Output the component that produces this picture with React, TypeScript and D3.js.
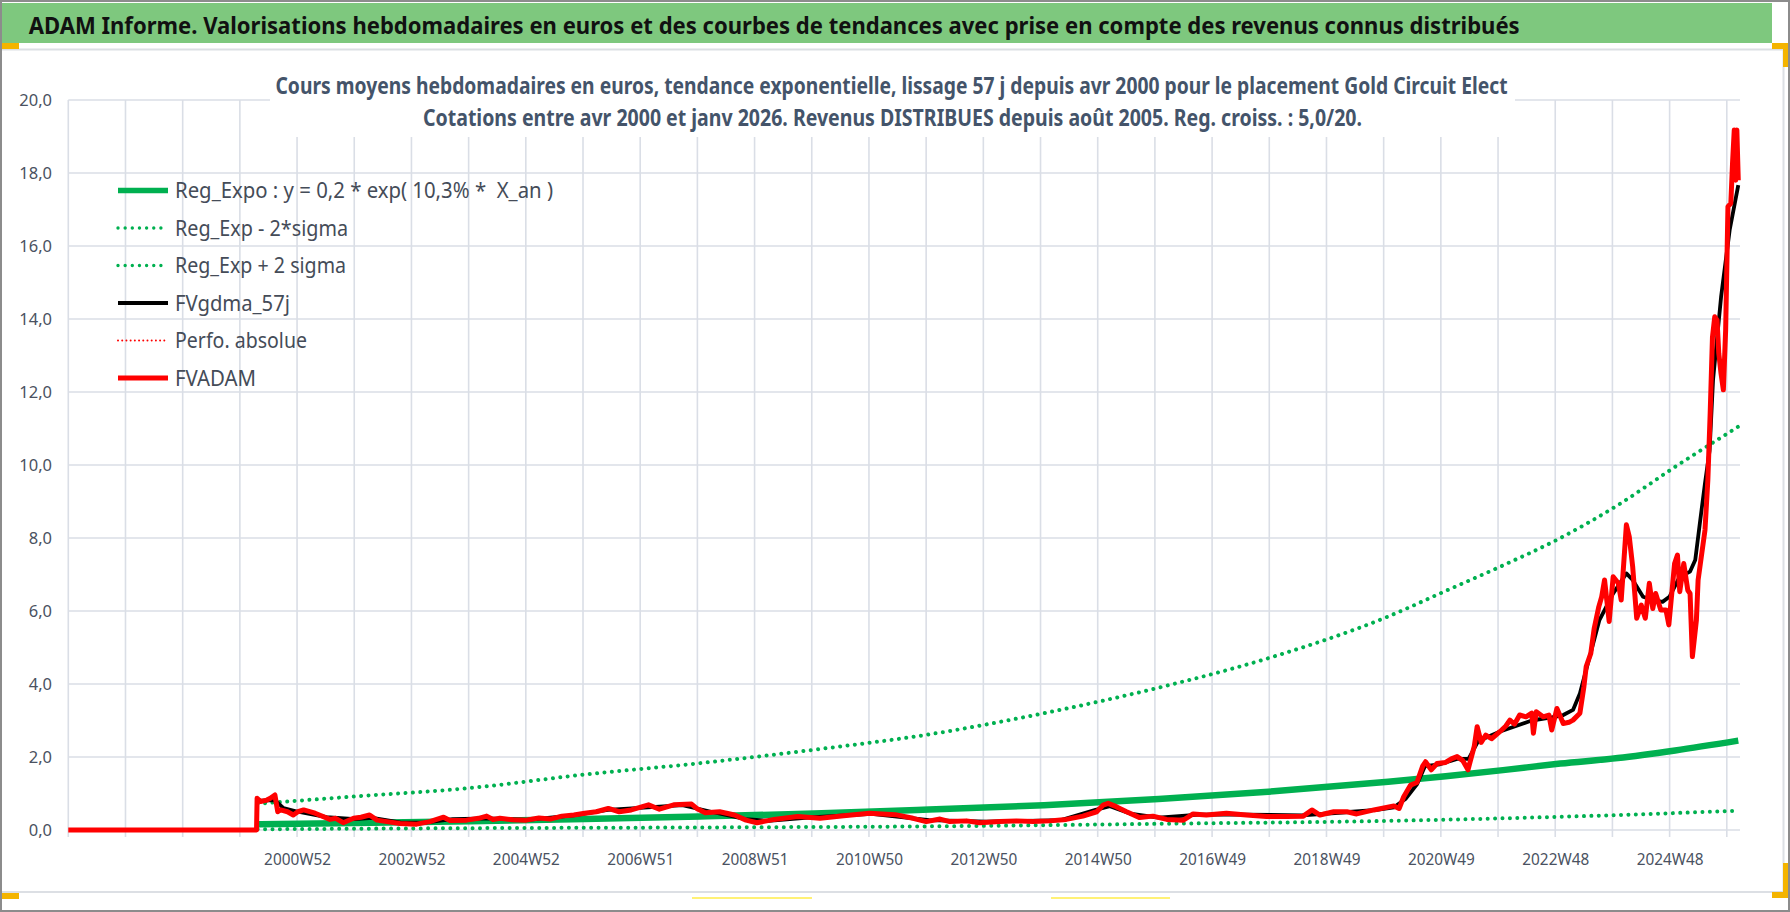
import * as d3 from 'd3';

// ---- data (decimal year, value in euros) ----
const TICK_LABELS = ['2000W52', '2002W52', '2004W52', '2006W51', '2008W51', '2010W50', '2012W50',
  '2014W50', '2016W49', '2018W49', '2020W49', '2022W48', '2024W48'];
const Y_TICKS = [0, 2, 4, 6, 8, 10, 12, 14, 16, 18, 20];

const regExpo: [number, number][] = [
  [2000.3, 0.16], [2002, 0.19], [2004, 0.24], [2006, 0.3], [2008, 0.37], [2010, 0.45],
  [2012, 0.56], [2014, 0.68], [2016, 0.85], [2018, 1.06], [2020, 1.32], [2021, 1.47],
  [2022, 1.64], [2023, 1.82], [2024, 1.97], [2025, 2.18], [2026.1, 2.45],
];
const regMinus: [number, number][] = [
  [2000.3, 0.02], [2004, 0.05], [2008, 0.07], [2012, 0.1], [2016, 0.17], [2020, 0.25],
  [2022, 0.32], [2024, 0.41], [2026.1, 0.53],
];
const regPlus: [number, number][] = [
  [2000.3, 0.72], [2002, 0.92], [2004, 1.15], [2006, 1.52], [2008, 1.83], [2010, 2.2],
  [2012, 2.62], [2014, 3.2], [2016, 3.9], [2018, 4.75], [2020, 5.85], [2021, 6.55],
  [2022, 7.25], [2023, 8.0], [2024, 8.9], [2025, 9.95], [2026.1, 11.05],
];
const fvGdma: [number, number][] = [
  [2000.29, 0.8], [2000.6, 0.82], [2000.75, 0.6], [2001.0, 0.5], [2001.5, 0.35], [2002.0, 0.3],
  [2002.3, 0.33], [2002.8, 0.2], [2003.2, 0.2], [2003.7, 0.3], [2004.3, 0.32], [2005.0, 0.28],
  [2005.8, 0.4], [2006.4, 0.55], [2007.1, 0.62], [2007.7, 0.68], [2008.2, 0.5], [2008.8, 0.3],
  [2009.2, 0.25], [2010.0, 0.35], [2011.0, 0.44], [2012.0, 0.27], [2013.0, 0.23], [2014.3, 0.27],
  [2014.9, 0.55], [2015.15, 0.65], [2015.5, 0.45], [2016.0, 0.34], [2016.7, 0.42], [2017.5, 0.42],
  [2018.5, 0.4], [2019.2, 0.48], [2019.8, 0.55], [2020.1, 0.62], [2020.3, 0.85], [2020.5, 1.25],
  [2020.64, 1.75], [2020.9, 1.8], [2021.2, 1.95], [2021.4, 1.95], [2021.57, 2.44], [2021.95, 2.7],
  [2022.5, 3.0], [2022.9, 3.1], [2023.05, 3.15], [2023.22, 3.29], [2023.34, 3.74], [2023.48, 4.57],
  [2023.68, 5.75], [2023.92, 6.48], [2024.15, 7.03], [2024.26, 6.85], [2024.44, 6.39],
  [2024.61, 6.3], [2024.78, 6.25], [2024.9, 6.39], [2025.08, 6.94], [2025.26, 7.08],
  [2025.35, 7.4], [2025.43, 8.4], [2025.52, 9.5], [2025.6, 10.4], [2025.66, 12.33],
  [2025.8, 14.6], [2025.95, 16.44], [2026.1, 17.67],
];
const fvAdam: [number, number][] = [
  [1997.0, 0], [2000.28, 0], [2000.29, 0.87], [2000.35, 0.78], [2000.46, 0.82], [2000.52, 0.87],
  [2000.6, 0.96], [2000.65, 0.5], [2000.7, 0.55], [2000.82, 0.5], [2000.92, 0.41], [2001.0, 0.5],
  [2001.1, 0.55], [2001.3, 0.46], [2001.56, 0.29], [2001.66, 0.32], [2001.79, 0.2], [2001.97, 0.32],
  [2002.1, 0.35], [2002.25, 0.41], [2002.38, 0.27], [2002.55, 0.23], [2002.78, 0.18], [2003.07, 0.16],
  [2003.3, 0.23], [2003.54, 0.35], [2003.65, 0.26], [2003.94, 0.27], [2004.15, 0.32], [2004.29, 0.38],
  [2004.4, 0.29], [2004.52, 0.32], [2004.75, 0.28], [2004.98, 0.27], [2005.2, 0.33], [2005.4, 0.3],
  [2005.6, 0.38], [2005.81, 0.41], [2006.0, 0.46], [2006.2, 0.5], [2006.41, 0.59], [2006.6, 0.5],
  [2006.81, 0.55], [2007.11, 0.69], [2007.3, 0.57], [2007.55, 0.69], [2007.86, 0.71], [2007.95, 0.59],
  [2008.1, 0.47], [2008.35, 0.5], [2008.61, 0.41], [2008.81, 0.27], [2009.0, 0.2], [2009.3, 0.29],
  [2009.71, 0.37], [2010.1, 0.32], [2010.51, 0.39], [2010.96, 0.46], [2011.41, 0.42], [2011.72, 0.32],
  [2011.95, 0.23], [2012.19, 0.3], [2012.36, 0.23], [2012.65, 0.25], [2012.88, 0.2], [2013.23, 0.23],
  [2013.52, 0.25], [2013.81, 0.23], [2014.1, 0.25], [2014.39, 0.29], [2014.68, 0.38], [2014.92, 0.5],
  [2015.03, 0.68], [2015.12, 0.73], [2015.26, 0.64], [2015.44, 0.5], [2015.67, 0.34], [2015.9, 0.38],
  [2016.14, 0.29], [2016.43, 0.27], [2016.6, 0.44], [2016.83, 0.41], [2017.18, 0.46], [2017.53, 0.41],
  [2017.88, 0.37], [2018.23, 0.37], [2018.52, 0.38], [2018.67, 0.55], [2018.81, 0.41], [2019.05, 0.5],
  [2019.28, 0.5], [2019.45, 0.44], [2019.75, 0.55], [2020.1, 0.66], [2020.19, 0.59], [2020.27, 0.91],
  [2020.39, 1.23], [2020.5, 1.3], [2020.6, 1.75], [2020.65, 1.87], [2020.75, 1.65], [2020.85, 1.82],
  [2021.0, 1.85], [2021.1, 1.95], [2021.2, 2.01], [2021.3, 1.9], [2021.39, 1.65], [2021.5, 2.3],
  [2021.55, 2.83], [2021.62, 2.4], [2021.7, 2.6], [2021.8, 2.5], [2021.95, 2.7], [2022.05, 2.85],
  [2022.12, 3.01], [2022.2, 2.9], [2022.29, 3.15], [2022.4, 3.1], [2022.5, 3.2], [2022.53, 2.65],
  [2022.58, 3.24], [2022.7, 3.1], [2022.8, 3.15], [2022.85, 2.74], [2022.94, 3.33], [2023.05, 2.92],
  [2023.15, 2.95], [2023.22, 3.01], [2023.34, 3.2], [2023.41, 3.93], [2023.45, 4.48], [2023.53, 4.84],
  [2023.59, 5.53], [2023.67, 6.12], [2023.72, 6.39], [2023.77, 6.85], [2023.85, 5.71], [2023.92, 6.94],
  [2024.01, 6.76], [2024.06, 6.3], [2024.15, 8.36], [2024.2, 8.04], [2024.26, 7.21], [2024.33, 5.8],
  [2024.41, 6.16], [2024.48, 5.8], [2024.55, 6.76], [2024.61, 6.07], [2024.66, 6.48], [2024.75, 6.03],
  [2024.84, 6.03], [2024.89, 5.62], [2024.99, 7.3], [2025.04, 7.53], [2025.08, 6.53], [2025.15, 7.3],
  [2025.22, 6.57], [2025.26, 6.48], [2025.3, 4.75], [2025.37, 5.75], [2025.4, 6.85], [2025.52, 8.22],
  [2025.57, 9.6], [2025.61, 11.4], [2025.65, 13.5], [2025.69, 14.06], [2025.73, 13.97], [2025.76, 13.06],
  [2025.8, 12.5], [2025.84, 12.06], [2025.88, 13.7], [2025.92, 17.08], [2025.97, 17.17], [2026.0, 18.27],
  [2026.03, 19.18], [2026.055, 17.8], [2026.075, 19.18], [2026.1, 17.8],
];

const LEGEND = [
  { label: 'Reg_Expo : y = 0,2 * exp( 10,3% *  X_an )', color: '#00B050', width: 5.5, dots: false, len: 378 },
  { label: 'Reg_Exp - 2*sigma', color: '#00B050', width: 3.4, dots: true, len: 173 },
  { label: 'Reg_Exp + 2 sigma', color: '#00B050', width: 3.4, dots: true, len: 171 },
  { label: 'FVgdma_57j', color: '#000000', width: 4, dots: false, len: 115 },
  { label: 'Perfo. absolue', color: '#FF0000', width: 2, dots: true, len: 132 },
  { label: 'FVADAM', color: '#FF0000', width: 5, dots: false, len: 81 },
];

const W = 1790;
const H = 912;
const N_WEEKS = 1520;
const WEEKS_PER_YEAR = 52.18;
const START_YEAR = 1997;
const FONT = "'Noto Sans', 'Open Sans', sans-serif";
const AXIS_COLOR = '#4a5261';

export default function App() {
  const xWeek = d3.scaleLinear().domain([0, N_WEEKS]).range([68.3, 1740]);
  const y = d3.scaleLinear().domain([0, 20]).range([830, 100]);
  const xYear = (yr: number) => xWeek((yr - START_YEAR) * WEEKS_PER_YEAR);

  const jagged = d3.line<[number, number]>().x(d => xYear(d[0])).y(d => y(d[1]));
  const smooth = d3.line<[number, number]>().x(d => xYear(d[0])).y(d => y(d[1])).curve(d3.curveMonotoneX);

  const gridWeeks = d3.range(0, N_WEEKS - 10, 52);
  const legendY = d3.range(LEGEND.length).map(i => 190.5 + i * 37.5);

  return (
    <>
      <style>{'body{margin:0}'}</style>
      <svg width={W} height={H} style={{ display: 'block', fontFamily: FONT }}>
        <rect x={0} y={0} width={W} height={H} fill="#fff" />
        {/* header band */}
        <rect x={2} y={3} width={1770} height={40} fill="#7ec87e" />
        <text x={28.7} y={33.5} fontSize={23} fontWeight="bold" fill="#111"
          textLength={1491} lengthAdjust="spacingAndGlyphs">
          ADAM Informe. Valorisations hebdomadaires en euros et des courbes de tendances avec prise en compte des revenus connus distribués
        </text>
        {/* chart area border */}
        <path d="M2,49.5 H1783.5 V892 H2" fill="none" stroke="#dcdfe4" strokeWidth={2} />

        {/* grid */}
        {Y_TICKS.map(t => (
          <line key={`h${t}`} x1={68.3} x2={1740} y1={y(t)} y2={y(t)} stroke="#dadee6" strokeWidth={1.6} />
        ))}
        {gridWeeks.map(w => (
          <line key={`v${w}`} x1={xWeek(w)} x2={xWeek(w)} y1={y(20)} y2={837} stroke="#dadee6" strokeWidth={1.6} />
        ))}

        {/* title box covering grid */}
        <rect x={270} y={52} width={1245} height={85} fill="#fff" />
        <text x={275.5} y={94} fontSize={23} fontWeight="bold" fill="#44546A"
          textLength={1232} lengthAdjust="spacingAndGlyphs">
          Cours moyens hebdomadaires en euros, tendance exponentielle, lissage 57 j depuis avr 2000 pour le placement Gold Circuit Elect
        </text>
        <text x={423} y={126} fontSize={23} fontWeight="bold" fill="#44546A"
          textLength={939} lengthAdjust="spacingAndGlyphs">
          Cotations entre avr 2000 et janv 2026. Revenus DISTRIBUES depuis août 2005. Reg. croiss. : 5,0/20.
        </text>

        {/* axes labels */}
        {Y_TICKS.map(t => (
          <text key={`yl${t}`} x={52} y={y(t)} dy="0.36em" textAnchor="end" fontSize={16.5} fill={AXIS_COLOR}>
            {t.toFixed(1).replace('.', ',')}
          </text>
        ))}
        {TICK_LABELS.map((lab, i) => (
          <text key={lab} x={xWeek(208.5 + i * 104)} y={865} textAnchor="middle" fontSize={16.5} fill={AXIS_COLOR}
            textLength={67} lengthAdjust="spacingAndGlyphs">
            {lab}
          </text>
        ))}

        {/* series */}
        <path d={smooth(regExpo) ?? ''} fill="none" stroke="#00B050" strokeWidth={6.5} />
        <path d={smooth(regMinus) ?? ''} fill="none" stroke="#00B050" strokeWidth={4}
          strokeDasharray="0.01 7.4" strokeLinecap="round" />
        <path d={smooth(regPlus) ?? ''} fill="none" stroke="#00B050" strokeWidth={4}
          strokeDasharray="0.01 7.4" strokeLinecap="round" />
        <path d={jagged(fvGdma) ?? ''} fill="none" stroke="#000" strokeWidth={3.8} strokeLinejoin="round" />
        <path d={jagged(fvAdam) ?? ''} fill="none" stroke="#FF0000" strokeWidth={5} strokeLinejoin="round" />

        {/* legend */}
        {LEGEND.map((e, i) => (
          <g key={e.label}>
            <line x1={118} x2={168} y1={legendY[i]} y2={legendY[i]} stroke={e.color} strokeWidth={e.width}
              strokeDasharray={e.dots ? `0.01 ${e.width * 2.1}` : undefined}
              strokeLinecap={e.dots ? 'round' : 'butt'} />
            <text x={175} y={legendY[i]} dy="0.35em" fontSize={21.5} fill="#454c58"
              textLength={e.len} lengthAdjust="spacingAndGlyphs" style={{ whiteSpace: 'pre' }}>
              {e.label}
            </text>
          </g>
        ))}

        {/* sheet decorations */}
        <rect x={0} y={43} width={19} height={6} fill="#f4b400" />
        <rect x={0} y={893} width={19} height={6} fill="#f4b400" />
        <rect x={1772} y={43} width={18} height={6} fill="#f4b400" />
        <rect x={1783} y={43} width={7} height={24} fill="#f4b400" />
        <rect x={1783} y={863} width={7} height={35} fill="#f4b400" />
        <rect x={1772} y={892} width={18} height={6} fill="#f4b400" />
        <line x1={692} x2={812} y1={898} y2={898} stroke="#fff176" strokeWidth={2} />
        <line x1={1051} x2={1170} y1={898} y2={898} stroke="#fff176" strokeWidth={2} />
        <rect x={1} y={1} width={W - 2} height={H - 2} fill="none" stroke="#8c8c8c" strokeWidth={2} />
      </svg>
    </>
  );
}
